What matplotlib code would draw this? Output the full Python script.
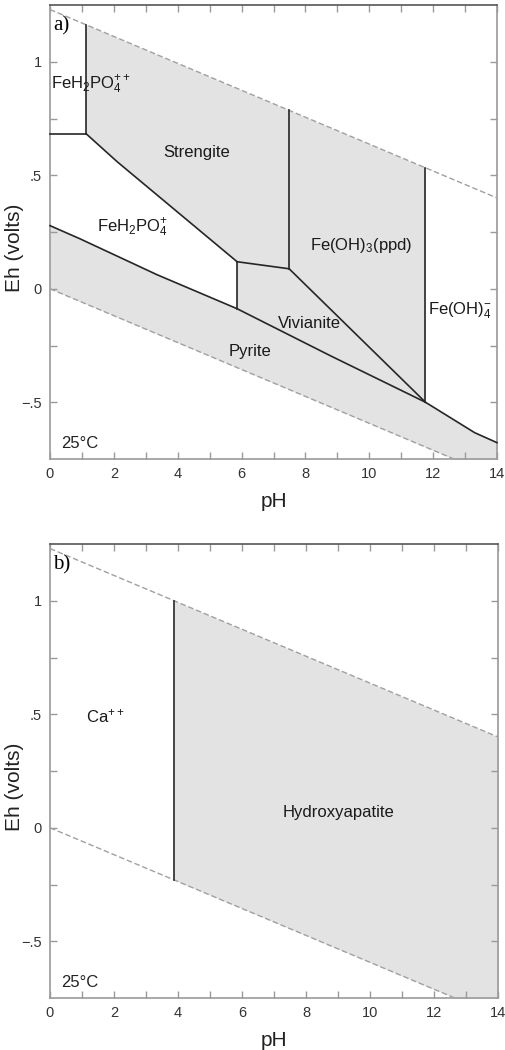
import numpy as np
import matplotlib.pyplot as plt
from matplotlib.ticker import MultipleLocator, FixedLocator, FuncFormatter

plt.rcParams['font.family'] = ['Liberation Sans', 'DejaVu Sans']
plt.rcParams['mathtext.default'] = 'regular'

# water stability limits (read at pH 0 and 14)
water_ph = [0, 14]
water_top_eh = [1.23, 0.40]
water_bot_eh = [0.0, -0.83]

# panel a) Fe-P-S-O-H boundaries
fe_cap_ph, fe_cap_eh = [0, 1.13], [0.683, 0.683]
fe_v1_ph, fe_v1_eh = [1.13, 1.13], [0.683, 1.163]
streng_low_ph = [1.13, 2.1, 5.86]
streng_low_eh = [0.683, 0.56, 0.119]
fe_v2_ph, fe_v2_eh = [5.86, 5.86], [0.119, -0.088]
viv_top_ph, viv_top_eh = [5.86, 7.49], [0.119, 0.088]
fe_v3_ph, fe_v3_eh = [7.49, 7.49], [0.787, 0.088]
viv_right_ph, viv_right_eh = [7.49, 11.76], [0.088, -0.50]
fe_v4_ph, fe_v4_eh = [11.76, 11.76], [0.534, -0.50]
pyrite_ph = [0, 0.94, 3.35, 5.86, 8.78, 11.76, 13.3, 14]
pyrite_eh = [0.278, 0.22, 0.062, -0.088, -0.295, -0.50, -0.634, -0.678]

labels_a = [r'FeH$_2$PO$_4^{++}$', 'Strengite', r'FeH$_2$PO$_4^{+}$',
            r'Fe(OH)$_3$(ppd)', r'Fe(OH)$_4^{-}$', 'Vivianite', 'Pyrite']
labels_a_ph = [0.02, 4.58, 2.57, 9.75, 11.85, 8.12, 6.27]
labels_a_eh = [0.90, 0.60, 0.27, 0.19, -0.095, -0.155, -0.275]
labels_a_ha = ['left', 'center', 'center', 'center', 'left', 'center', 'center']

# panel b) Ca-P-O-H boundary
ca_v_ph, ca_v_eh = [3.88, 3.88], [1.0, -0.23]
labels_b = [r'Ca$^{++}$', 'Hydroxyapatite']
labels_b_ph = [1.72, 9.0]
labels_b_eh = [0.49, 0.065]

GRAY = '#e3e3e3'
LINE = '#262626'
AXC = '#9a9a9a'


def eh_fmt(v, pos):
    if abs(v) < 1e-9:
        return '0'
    s = ('%g' % v).replace('0.', '.')
    return s.replace('-', '\u2212')


def style_axes(ax, tag):
    ax.set_xlim(0, 14)
    ax.set_ylim(-0.75, 1.25)
    ax.xaxis.set_major_locator(MultipleLocator(2))
    ax.xaxis.set_minor_locator(MultipleLocator(1))
    ax.yaxis.set_major_locator(FixedLocator([-0.5, 0, 0.5, 1]))
    ax.yaxis.set_minor_locator(FixedLocator([-0.25, 0.25, 0.75]))
    ax.yaxis.set_major_formatter(FuncFormatter(eh_fmt))
    ax.tick_params(which='both', direction='in', top=True, right=True,
                   length=5, width=1, color=AXC, labelsize=10.5,
                   labelcolor='#333333', pad=6)
    for side, sp in ax.spines.items():
        sp.set_color(AXC)
        sp.set_linewidth(1.2)
    ax.spines['top'].set_color('#555555')
    ax.set_xlabel('pH', fontsize=15, color='#222222', labelpad=8)
    ax.set_ylabel('Eh (volts)', fontsize=15, color='#222222')
    ax.yaxis.set_label_coords(-0.058, 0.465)
    ax.text(0.007, 0.955, tag, transform=ax.transAxes, family='Liberation Serif',
            fontsize=15, va='center', ha='left')
    ax.text(0.35, -0.683, '25\u00b0C', fontsize=12, va='center', ha='left',
            color='#222222')


def water_band(ax):
    ax.fill_between(water_ph, water_bot_eh, water_top_eh, color=GRAY, lw=0, zorder=0)


def water_lines(ax):
    ax.plot(water_ph, water_top_eh, color='#a0a0a0', lw=1, ls=(0, (4, 2)), zorder=3)
    ax.plot(water_ph, water_bot_eh, color='#a0a0a0', lw=1, ls=(0, (4, 2)), zorder=3)


fig = plt.figure(figsize=(5.05, 10.5), dpi=100)
ax1 = fig.add_axes([50 / 505, 1 - 459 / 1050, 447 / 505, 454 / 1050])
ax2 = fig.add_axes([50 / 505, 1 - 998 / 1050, 448 / 505, 454 / 1050])

# ---- panel a
water_band(ax1)
top_at = lambda p: np.interp(p, water_ph, water_top_eh)
white_polys = [
    ([0, 1.13, 1.13, 0], [0.683, 0.683, top_at(1.13), top_at(0)]),
    (fe_cap_ph + streng_low_ph[1:] + [5.86] + pyrite_ph[:3][::-1],
     fe_cap_eh + streng_low_eh[1:] + [-0.088] + pyrite_eh[:3][::-1]),
    ([11.76, 14] + pyrite_ph[-1:4:-1],
     [top_at(11.76), top_at(14)] + pyrite_eh[-1:4:-1]),
]
for px, py in white_polys:
    ax1.fill(px, py, color='white', lw=0, zorder=1)

for xs, ys in [(fe_cap_ph, fe_cap_eh), (fe_v1_ph, fe_v1_eh),
               (streng_low_ph, streng_low_eh), (fe_v2_ph, fe_v2_eh),
               (viv_top_ph, viv_top_eh), (fe_v3_ph, fe_v3_eh),
               (viv_right_ph, viv_right_eh), (fe_v4_ph, fe_v4_eh),
               (pyrite_ph, pyrite_eh)]:
    ax1.plot(xs, ys, color=LINE, lw=1.2, zorder=4, clip_on=False)
water_lines(ax1)

for t, x, y, ha in zip(labels_a, labels_a_ph, labels_a_eh, labels_a_ha):
    ax1.text(x, y, t, fontsize=12, ha=ha, va='center', color='#1a1a1a', zorder=5)
style_axes(ax1, 'a)')

# ---- panel b
ax2.fill_between([3.88, 14], [1.0, water_top_eh[1]], [-0.23, water_bot_eh[1]],
                 color=GRAY, lw=0, zorder=0)
ax2.plot(ca_v_ph, ca_v_eh, color=LINE, lw=1.2, zorder=4)
water_lines(ax2)
for t, x, y in zip(labels_b, labels_b_ph, labels_b_eh):
    ax2.text(x, y, t, fontsize=12, ha='center', va='center', color='#1a1a1a', zorder=5)
style_axes(ax2, 'b)')

fig.savefig('out.png', dpi=100)
